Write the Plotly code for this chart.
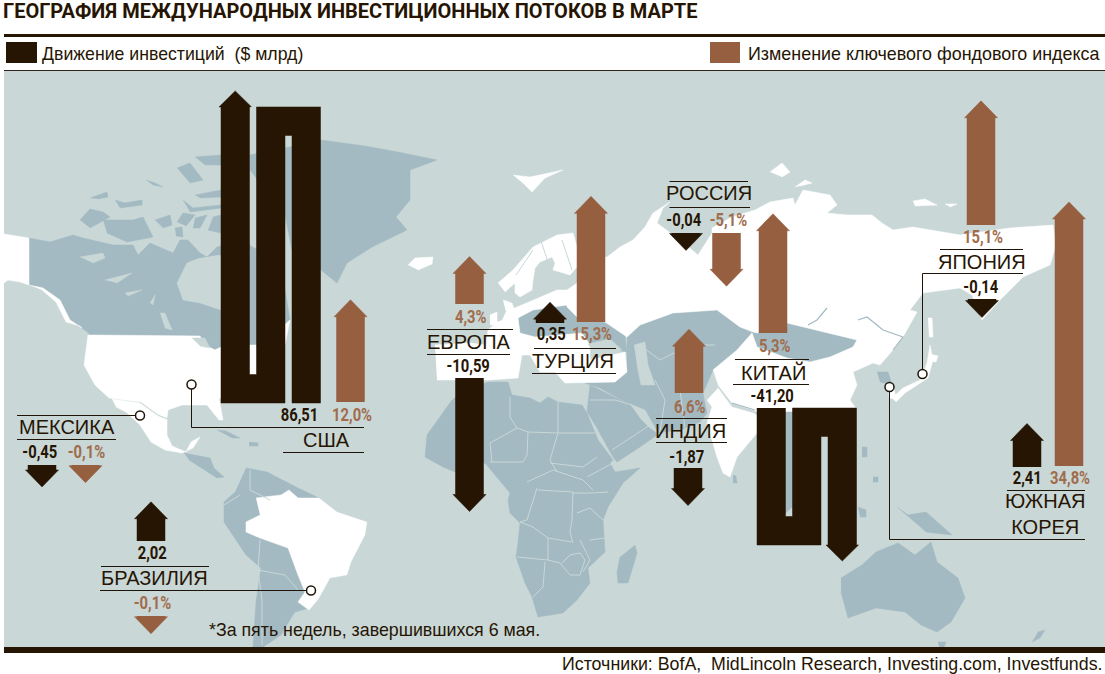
import plotly.graph_objects as go

TITLE = "ГЕОГРАФИЯ МЕЖДУНАРОДНЫХ ИНВЕСТИЦИОННЫХ ПОТОКОВ В МАРТЕ"
LEGEND_INVEST = "Движение инвестиций  ($ млрд)"
LEGEND_INDEX = "Изменение ключевого фондового индекса"
FOOTNOTE = "*За пять недель, завершившихся 6 мая."
SOURCES = "Источники: BofA,  MidLincoln Research, Investing.com, Investfunds."

countries = ["США", "ЕВРОПА", "ТУРЦИЯ", "РОССИЯ", "КИТАЙ", "ИНДИЯ", "ЯПОНИЯ", "ЮЖНАЯ<br>КОРЕЯ", "МЕКСИКА", "БРАЗИЛИЯ"]
invest_values = [86.51, -10.59, 0.35, -0.04, -41.20, -1.87, -0.14, 2.41, -0.45, 2.02]
index_values = [12.0, 4.3, 15.3, -5.1, 5.3, 6.6, 15.1, 34.8, -0.1, -0.1]
# the China arrow is drawn much longer than its printed 5,3%
index_arrow_values = [12.0, 4.3, 15.3, -5.1, 14.4, 6.6, 15.1, 34.8, -0.1, -0.1]

DARK = "#261503"
BROWN = "#955F40"
BROWN_TEXT = "#A06C4C"
SEA = "#C9D7D7"
LAND = "#A3BAC2"
RULE = "#1E1408"

INVEST_PX = 11.0
INDEX_PX = 7.1
HEAD_H = 17
HEAD_HALF = 16.5
SHAFT_HALF = 14

# centre x and base y of the arrows, pixels of the page
invest_anchor = {
    "ЕВРОПА": (469.5, 378), "ТУРЦИЯ": (550, 323), "РОССИЯ": (686, 233), "ИНДИЯ": (688, 468),
    "ЯПОНИЯ": (982, 299), "ЮЖНАЯ<br>КОРЕЯ": (1027, 467), "МЕКСИКА": (42, 465), "БРАЗИЛИЯ": (151, 541),
}
index_anchor = {
    "США": (350.5, 402), "ЕВРОПА": (469.5, 304), "ТУРЦИЯ": (591, 322), "РОССИЯ": (726.5, 233),
    "КИТАЙ": (773, 333), "ИНДИЯ": (689, 393), "ЯПОНИЯ": (981, 225), "ЮЖНАЯ<br>КОРЕЯ": (1069, 466),
    "МЕКСИКА": (85.5, 465), "БРАЗИЛИЯ": (151, 616),
}
# x, y of name, invest label, index label
text_anchor = {
    "США": ((326, 440), (299, 415), (351.5, 415)),
    "ЕВРОПА": ((469, 342), (468, 366), (470.5, 317)),
    "ТУРЦИЯ": ((573, 361), (551, 334), (592, 334)),
    "РОССИЯ": ((709, 193), (684, 220), (728, 220)),
    "КИТАЙ": ((773, 372), (772, 396), (774, 346)),
    "ИНДИЯ": ((690, 431), (687, 457), (689, 407)),
    "ЯПОНИЯ": ((982, 262), (981, 287), (983, 237)),
    "ЮЖНАЯ<br>КОРЕЯ": ((1045, 514), (1027, 478), (1069.5, 478)),
    "МЕКСИКА": ((67, 427), (40, 452), (86, 452)),
    "БРАЗИЛИЯ": ((154.5, 578), (151.5, 553), (152, 603)),
}
rules = [
    (191.5, 427.5, 364, 427.5), (191.5, 388, 191.5, 427.5), (283, 452.5, 364, 452.5),
    (427, 329.5, 513, 329.5), (427, 354.5, 510, 354.5),
    (534, 348.5, 616, 348.5), (532, 373.5, 616, 373.5),
    (669.5, 181.5, 748, 181.5), (669.5, 207.5, 750, 207.5),
    (735, 359.5, 809, 359.5), (733, 384.5, 809, 384.5),
    (656, 418.5, 727, 418.5), (656, 442.5, 727, 442.5),
    (940, 249.5, 1023, 249.5), (922.5, 273.5, 1023, 273.5), (922.5, 273.5, 922.5, 370),
    (1007, 490.5, 1085, 490.5), (889.5, 539.5, 1085, 539.5), (889.5, 391, 889.5, 539.5),
    (17, 415.5, 136, 415.5), (17, 439.5, 116, 439.5),
    (101, 566.5, 209, 566.5), (100, 590.5, 307, 590.5),
]
pin_x = [191.5, 140, 311, 922.5, 889.5]
pin_y = [384.5, 415.5, 590.5, 374, 387]

land_shapes = [
    # Canada
    [(29, 238), (50, 242), (73, 235), (83, 238), (113, 245), (133, 245), (138, 255), (150, 243), (173, 253),
     (180, 240), (188, 240), (200, 253), (207, 257), (217, 247), (240, 240), (258, 250), (285, 290), (290, 320),
     (262, 345), (225, 345), (215, 350), (205, 345), (200, 336), (91, 335), (82, 328), (70, 320), (60, 300),
     (43, 288), (29, 285)],
    # Canadian islands
    [(80, 220), (90, 209), (103, 212), (110, 217), (90, 228)],
    [(103, 220), (133, 220), (143, 217), (153, 237), (127, 242), (107, 233)],
    [(90, 198), (107, 192), (108, 197), (98, 199)],
    [(115, 200), (125, 203), (142, 200), (142, 205), (120, 208)],
    [(177, 168), (190, 163), (203, 180), (190, 183)],
    [(195, 157), (221, 155), (221, 165), (205, 165)],
    [(195, 195), (221, 190), (221, 197), (200, 198)],
    [(183, 200), (193, 208), (221, 205), (221, 208), (190, 212)],
    [(177, 222), (183, 213), (195, 215), (186, 226)],
    [(155, 220), (170, 215), (172, 225), (163, 228)],
    [(195, 218), (207, 215), (200, 228), (193, 228)],
    [(213, 217), (221, 215), (221, 233), (208, 230)],
    [(175, 228), (182, 227), (183, 237), (176, 236)],
    [(146, 180), (155, 183), (163, 187), (153, 185)],
    # Greenland
    [(250, 155), (285, 148), (321, 140), (365, 146), (403, 153), (437, 160), (410, 170), (410, 200), (396, 217),
     (407, 230), (372, 247), (347, 263), (337, 283), (321, 270), (292, 250), (285, 215), (250, 170)],
    # Central America and islands
    [(184, 453), (210, 458), (214, 468), (224, 477), (217, 478), (200, 467), (189, 460)],
    [(217, 430), (226, 431), (240, 438), (232, 438)],
    [(249, 442), (258, 443), (258, 446), (249, 446)],
    # South America
    [(246, 468), (267, 472), (298, 488), (319, 498), (337, 512), (367, 522), (365, 535), (351, 562), (347, 575),
     (330, 578), (319, 598), (309, 608), (295, 612), (291, 618), (281, 635), (263, 647), (253, 647), (256, 602),
     (261, 568), (246, 555), (224, 522), (224, 502), (235, 492)],
    # Africa
    [(467, 387), (490, 382), (508, 382), (512, 395), (530, 398), (540, 403), (548, 397), (558, 402), (582, 405),
     (587, 413), (598, 440), (613, 460), (610, 463), (615, 472), (640, 468), (623, 483), (608, 507), (603, 520),
     (605, 552), (588, 568), (590, 583), (577, 600), (563, 613), (538, 617), (532, 597), (525, 583), (516, 557),
     (518, 543), (520, 523), (510, 513), (508, 500), (510, 493), (485, 463), (455, 472), (443, 467), (425, 457),
     (427, 435), (452, 400)],
    # Madagascar
    [(635, 545), (637, 553), (628, 583), (618, 583), (617, 572), (620, 557)],
    # eastern Europe
    [(518, 318), (533, 310), (567, 305), (577, 317), (605, 322), (625, 335), (627, 352), (590, 345), (582, 333),
     (560, 335), (535, 337), (520, 333)],
    # Middle East and central Asia
    [(627, 337), (640, 325), (673, 313), (717, 310), (740, 327), (752, 333), (737, 350), (713, 370), (703, 393),
     (707, 413), (700, 422), (680, 430), (657, 433), (647, 420), (630, 405), (600, 388), (585, 383), (615, 382),
     (627, 372), (627, 350)],
    # Arabia
    [(587, 412), (590, 385), (630, 405), (647, 420), (657, 435), (640, 447), (617, 462), (613, 457), (598, 430)],
    # Mongolia
    [(752, 333), (757, 333), (787, 323), (817, 330), (857, 340), (853, 347), (830, 357), (810, 362), (787, 358),
     (757, 347)],
    # south-east Asia
    [(757, 412), (800, 412), (800, 500), (780, 518), (757, 440)],
    # Korea
    [(877, 372), (888, 372), (892, 385), (880, 382)],
    # Australia and Oceania
    [(841, 578), (862, 565), (876, 552), (898, 543), (915, 555), (931, 542), (937, 562), (958, 578), (965, 598),
     (951, 622), (937, 632), (921, 625), (905, 612), (876, 608), (848, 618), (841, 592)],
    [(897, 507), (908, 515), (926, 512), (952, 535), (926, 532)],
    [(938, 642), (946, 642), (944, 647), (939, 647)],
    [(1038, 632), (1045, 630), (1040, 638), (1032, 642)],
    [(862, 447), (867, 447), (867, 457), (862, 457)],
    [(873, 477), (878, 477), (878, 482), (873, 482)],
    [(858, 507), (866, 510), (866, 517), (860, 517)],
    [(733, 475), (736, 476), (737, 483), (733, 483)],
]
white_shapes = [
    # Alaska
    [(4, 234), (29, 238), (29, 285), (20, 282), (8, 280), (4, 283)],
    [(29, 285), (43, 288), (60, 300), (70, 320), (82, 328), (80, 326), (66, 322), (56, 302), (42, 290)],
    # USA
    [(91, 335), (200, 336), (205, 345), (215, 350), (225, 345), (262, 345), (290, 320), (285, 345), (260, 380),
     (225, 400), (219, 398), (223, 420), (219, 420), (207, 405), (182, 405), (168, 410), (167, 418), (158, 415),
     (140, 402), (109, 398), (95, 385), (84, 365), (88, 335)],
    # Mexico
    [(112, 399), (140, 403), (158, 416), (167, 419), (167, 435), (172, 446), (186, 452), (191, 442), (200, 437),
     (193, 448), (182, 453), (165, 450), (151, 442), (140, 425), (126, 412), (116, 407)],
    # Brazil
    [(256, 498), (281, 495), (289, 490), (298, 498), (319, 498), (337, 512), (367, 522), (365, 535), (351, 562),
     (347, 575), (330, 578), (319, 598), (309, 610), (298, 602), (305, 592), (298, 575), (288, 548), (260, 538),
     (246, 532), (246, 522), (260, 515)],
    # Russia
    [(577, 258), (607, 257), (620, 247), (633, 240), (645, 227), (653, 213), (670, 202), (663, 208), (657, 223),
     (667, 230), (680, 240), (698, 255), (712, 233), (712, 228), (732, 217), (755, 210), (770, 202), (793, 198),
     (795, 205), (803, 190), (830, 195), (837, 205), (827, 213), (847, 215), (872, 215), (882, 223), (893, 230),
     (913, 227), (960, 235), (1010, 228), (1053, 225), (1056, 245), (1050, 265), (1023, 277), (1000, 300),
     (982, 320), (972, 295), (960, 288), (923, 293), (910, 310), (917, 312), (903, 337), (883, 330), (867, 317),
     (858, 320), (857, 340), (817, 330), (787, 323), (757, 333), (740, 327), (717, 310), (673, 313), (640, 325),
     (627, 337), (605, 322), (577, 317), (567, 307), (567, 290), (577, 283)],
    # China
    [(713, 370), (737, 350), (752, 333), (757, 347), (787, 358), (810, 362), (830, 357), (853, 347), (857, 340),
     (858, 320), (867, 317), (883, 330), (903, 337), (893, 350), (880, 365), (873, 363), (853, 372), (857, 385),
     (850, 400), (857, 410), (757, 412), (753, 410), (732, 403), (718, 385)],
    # India
    [(718, 388), (732, 407), (753, 413), (757, 415), (757, 433), (737, 457), (730, 477), (723, 473), (717, 457),
     (707, 423), (712, 407), (707, 400)],
    # Europe
    [(435, 345), (470, 343), (486, 345), (488, 330), (497, 322), (512, 317), (510, 310), (533, 300), (557, 290),
     (567, 290), (567, 305), (533, 310), (518, 318), (520, 333), (535, 337), (560, 335), (582, 333), (590, 345),
     (590, 360), (625, 352), (627, 372), (615, 382), (585, 383), (565, 383), (555, 372), (540, 372), (530, 355),
     (522, 355), (518, 378), (490, 380), (465, 380), (437, 380)],
    # Scandinavia
    [(498, 283), (513, 270), (533, 247), (557, 235), (573, 233), (577, 247), (577, 267), (570, 275), (560, 272),
     (553, 270), (555, 263), (552, 257), (540, 262), (535, 268), (533, 280), (532, 290), (520, 297), (515, 293),
     (515, 283), (505, 292)],
    # Britain, Ireland, Iceland
    [(503, 300), (512, 303), (518, 320), (500, 325), (506, 312)],
    [(490, 315), (497, 312), (497, 325), (490, 325)],
    [(408, 265), (415, 258), (433, 257), (432, 264), (418, 270)],
    # Arctic islands
    [(513, 175), (530, 177), (563, 170), (545, 178), (532, 192), (525, 185)],
    [(770, 172), (782, 163), (790, 172), (782, 177)],
    [(795, 187), (805, 180), (812, 183), (800, 186)],
    [(913, 201), (925, 199), (937, 205), (915, 206)],
    [(945, 204), (957, 204), (950, 207)],
    # Sakhalin and Japan
    [(928, 318), (932, 318), (933, 337), (929, 337)],
    [(892, 398), (903, 388), (920, 380), (927, 363), (930, 345), (933, 360), (928, 378), (905, 393), (896, 402)],
    [(930, 354), (938, 356), (936, 362), (930, 361)],
    [(888, 383), (893, 385), (896, 397), (889, 399)],
]
sea_shapes = [
    # Caspian, Black Sea, Persian Gulf
    [(634, 345), (645, 342), (648, 365), (655, 385), (641, 385), (637, 365)],
    [(588, 344), (610, 339), (622, 350), (595, 356)],
    [(630, 404), (645, 410), (658, 433), (650, 428), (640, 418)],
    # Great Lakes, Hudson Bay and Canadian lakes
    [(200, 258), (187, 263), (177, 283), (183, 300), (200, 303), (221, 310), (240, 290), (232, 258), (218, 255)],
    [(80, 257), (103, 253), (105, 258), (93, 263)],
    [(105, 280), (132, 273), (117, 283)],
    [(125, 293), (142, 290), (128, 296)],
    [(150, 303), (155, 295), (153, 305)],
    [(160, 313), (165, 313), (172, 330), (165, 328)],
    [(192, 338), (205, 338), (210, 348), (200, 346)],
]
light_borders = [
    [(510, 397), (510, 417), (517, 428), (528, 432), (558, 433)],
    [(558, 402), (558, 433), (595, 433)],
    [(558, 433), (550, 460), (557, 472)],
    [(528, 432), (527, 455), (523, 462), (490, 462)],
    [(517, 428), (490, 443), (492, 462)],
    [(550, 463), (583, 467), (597, 457)],
    [(587, 477), (613, 463)],
    [(527, 482), (553, 470), (583, 480), (593, 490)],
    [(538, 490), (573, 492), (572, 520), (570, 532), (573, 543)],
    [(537, 488), (527, 520), (520, 522), (533, 527), (548, 538), (572, 542)],
    [(517, 557), (548, 560), (560, 563), (570, 575), (580, 575)],
    [(545, 562), (543, 587), (533, 597)],
    [(548, 538), (548, 560)],
    [(573, 493), (592, 493), (608, 492)],
    [(603, 520), (590, 508), (577, 513)],
    [(590, 540), (605, 538)],
    [(580, 540), (590, 560), (583, 572)],
    [(562, 563), (570, 555), (580, 553), (585, 560), (580, 575)],
    [(250, 470), (250, 490), (270, 500)],
    [(224, 505), (240, 495)],
    [(260, 540), (258, 570), (262, 600), (262, 645)],
    [(258, 570), (285, 575), (298, 590)],
    [(590, 400), (615, 400), (632, 405)],
    [(612, 450), (650, 425)],
    [(640, 345), (660, 360), (690, 345), (715, 345)],
    [(655, 380), (665, 400), (660, 432)],
    [(680, 390), (685, 428)],
    [(140, 402), (158, 415), (167, 419)],
    [(540, 238), (548, 262)],
    [(562, 240), (572, 270)],
    [(516, 275), (533, 250)],
]
land_lines = [
    [(808, 325), (817, 320), (827, 308)],
    [(858, 320), (867, 317), (883, 330), (903, 337), (893, 350)],
    [(732, 403), (755, 410)],
]

# no narrow face is installed, so the bold figures get squeezed after drawing
SQUEEZE_FIGURES = """
document.body.style.margin = '0';
document.documentElement.style.overflow = 'hidden';
function squeezeFigures() {
  document.querySelectorAll('.annotation-text').forEach(function (t) {
    if (/^[-0-9,%]+$/.test(t.textContent) && !t.hasAttribute('textLength')) {
      t.setAttribute('textLength', t.getComputedTextLength() * 0.8);
      t.setAttribute('lengthAdjust', 'spacingAndGlyphs');
    }
  });
}
squeezeFigures();
setTimeout(squeezeFigures, 50);
"""


def flatten(polygons):
    xs, ys = [], []
    for polygon in polygons:
        xs += [p[0] for p in polygon] + [None]
        ys += [p[1] for p in polygon] + [None]
    return xs, ys


def add_polygons(fig, polygons, color):
    xs, ys = flatten(polygons)
    fig.add_trace(go.Scatter(x=xs, y=ys, mode="lines", fill="toself", fillcolor=color,
                             line={"color": color, "width": 0.5}, hoverinfo="skip"))


def add_lines(fig, polylines, color, width):
    xs, ys = flatten(polylines)
    fig.add_trace(go.Scatter(x=xs, y=ys, mode="lines", line={"color": color, "width": width}, hoverinfo="skip"))


def arrow_points(center, base, value, px_per_unit):
    length = HEAD_H + abs(value) * px_per_unit
    sign = -1 if value > 0 else 1
    tip = base + sign * length
    neck = tip - sign * HEAD_H
    return [(center - SHAFT_HALF, base), (center - SHAFT_HALF, neck), (center - HEAD_HALF, neck), (center, tip),
            (center + HEAD_HALF, neck), (center + SHAFT_HALF, neck), (center + SHAFT_HALF, base)]


def snake_points(left, value, top=None, bottom=None):
    # long flows fold into three columns, the two bridges take part of the length
    fold = 3.51 * abs(value) - 7.6
    top = bottom - fold if top is None else top
    bottom = top + fold if bottom is None else bottom
    width, gap, bridge = 28.5, 7, 28.5
    x1, x2, x3, x4, x5 = (left + width, left + width + gap, left + 2 * width + gap, left + 2 * width + 2 * gap,
                          left + 3 * width + 2 * gap)
    points = [(x1, top), (x1, bottom - bridge), (x2, bottom - bridge), (x2, top), (x5, top), (x5, bottom)]
    if value < 0:
        mid = (x4 + x5) / 2
        points += [(x5 + 2, bottom), (mid, bottom + HEAD_H - 1), (x4 - 2, bottom)]
    points += [(x4, bottom), (x4, top + bridge), (x3, top + bridge), (x3, bottom), (left, bottom), (left, top)]
    if value > 0:
        mid = (left + x1) / 2
        points += [(left - 2, top), (mid, top - HEAD_H + 1), (x1 + 2, top)]
    return points


def add_text(fig, x, y, text, size, color, family="Liberation Sans", anchor="center", bold=False):
    fig.add_annotation(x=x, y=y, text=f"<b>{text}</b>" if bold else text, showarrow=False, xanchor=anchor,
                       yanchor="middle", font={"family": family, "size": size, "color": color})


def comma(value, digits):
    return f"{value:.{digits}f}".replace(".", ",")


fig = go.Figure()
fig.add_shape(type="rect", x0=4, x1=1105, y0=71, y1=647, fillcolor=SEA, line_width=0, layer="below")

add_polygons(fig, land_shapes, LAND)
add_polygons(fig, white_shapes, "#FFFFFF")
add_polygons(fig, sea_shapes, SEA)
add_lines(fig, light_borders, SEA, 1)
add_lines(fig, land_lines, LAND, 1.2)

invest_arrows = []
index_arrows = []
for name, invest, index_drawn in zip(countries, invest_values, index_arrow_values):
    if name == "США":
        invest_arrows.append(snake_points(221, invest, bottom=403))
    elif name == "КИТАЙ":
        invest_arrows.append(snake_points(757, invest, top=408))
    else:
        invest_arrows.append(arrow_points(*invest_anchor[name], invest, INVEST_PX))
    index_arrows.append(arrow_points(*index_anchor[name], index_drawn, INDEX_PX))
add_polygons(fig, index_arrows, BROWN)
add_polygons(fig, invest_arrows, DARK)

add_lines(fig, [[(r[0], r[1]), (r[2], r[3])] for r in rules], RULE, 1)
fig.add_trace(go.Scatter(x=pin_x, y=pin_y, mode="markers", hoverinfo="skip",
                         marker={"size": 9, "color": "#FFFFFF", "line": {"color": RULE, "width": 1.5}}))

# header and footer
fig.add_shape(type="rect", x0=4, x1=1105, y0=34, y1=37, fillcolor=DARK, line_width=0)
fig.add_shape(type="line", x0=4, x1=1105, y0=70.5, y1=70.5, line={"color": "#2E261C", "width": 1})
fig.add_shape(type="rect", x0=4, x1=1105, y0=647, y1=653, fillcolor=DARK, line_width=0)
fig.add_shape(type="rect", x0=6, x1=37, y0=42, y1=63, fillcolor=DARK, line_width=0)
fig.add_shape(type="rect", x0=710, x1=740, y0=42, y1=63, fillcolor=BROWN, line_width=0)

add_text(fig, 1, 11, TITLE, 20, DARK, family="Roboto", anchor="left", bold=True)
add_text(fig, 40, 54, LEGEND_INVEST, 17.7, DARK, anchor="left")
add_text(fig, 746, 54, LEGEND_INDEX, 17.9, DARK, anchor="left")
add_text(fig, 207, 630, FOOTNOTE, 17.8, DARK, anchor="left")
add_text(fig, 1104, 664, SOURCES, 17.8, DARK, anchor="right")

for name, invest, index in zip(countries, invest_values, index_values):
    name_xy, invest_xy, index_xy = text_anchor[name]
    add_text(fig, *name_xy, name, 20, DARK)
    add_text(fig, *invest_xy, comma(invest, 2), 18.5, DARK, family="Roboto", bold=True)
    add_text(fig, *index_xy, comma(index, 1) + "%", 18.5, BROWN_TEXT, family="Roboto", bold=True)

fig.update_layout(
    width=1105,
    height=674,
    margin={"l": 0, "r": 0, "t": 0, "b": 0},
    paper_bgcolor="#FFFFFF",
    plot_bgcolor="#FFFFFF",
    showlegend=False,
    xaxis={"range": [0, 1105], "visible": False, "fixedrange": True},
    yaxis={"range": [674, 0], "visible": False, "fixedrange": True},
)
fig.write_html("out.html", config={"displayModeBar": False}, post_script=SQUEEZE_FIGURES)
